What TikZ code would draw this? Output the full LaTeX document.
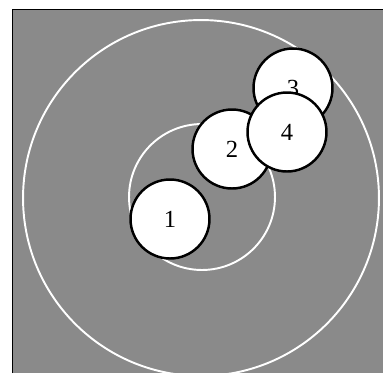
\documentclass[tikz,border=0pt]{standalone}
\usepackage{fontspec}
\setmainfont{Liberation Serif}
\usetikzlibrary{positioning}
\definecolor{FieldGray}{RGB}{138,138,138}
\tikzset{
  ring/.style={draw=white, line width=1.1pt},
  ball/.style={circle, draw=black, fill=white, line width=1.4pt, minimum size=1.58cm, inner sep=0pt, font=\fontsize{14}{14}\selectfont}
}

\begin{document}
\begin{tikzpicture}[x=0.02cm,y=-0.02cm]
          \useasboundingbox (0,0) rectangle (383,383);
          \fill[FieldGray] (12,9) rectangle (383,373);
          \draw[black, thin] (12,373) -- (12,9) -- (383,9);

          % target rings
          \node[ring, circle, minimum size=7.12cm] (outer) at (201,198) {};
          \node[ring, circle, minimum size=2.92cm] (inner) at (202,197) {};

          % shots
          \node[ball] (s1) at (170,219) {\raisebox{-3pt}{1}};
          \node[ball] (s3) at (293,88) {\raisebox{-8pt}{3}};
          \node[ball] (s2) at (232,149) {\raisebox{-3pt}{2}};
          \node[ball] (s4) at (287,132) {\raisebox{-3pt}{4}};
        \end{tikzpicture}
\end{document}
